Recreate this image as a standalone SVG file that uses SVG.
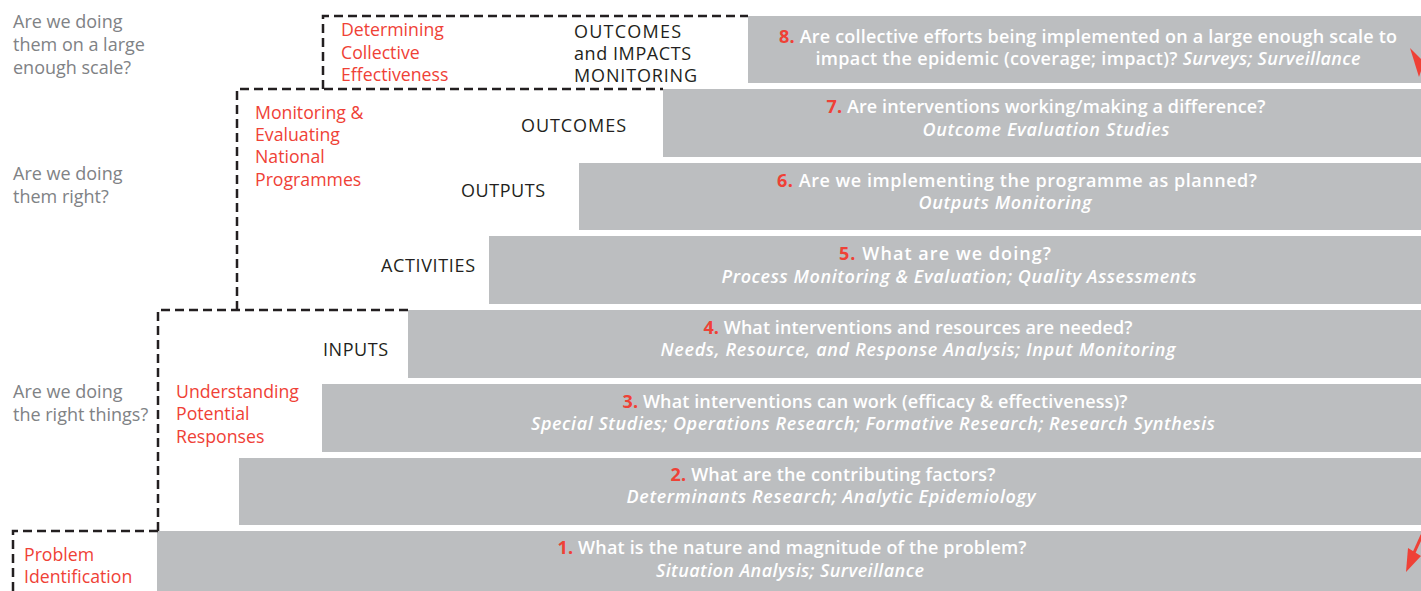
<svg xmlns="http://www.w3.org/2000/svg" width="1421" height="591" viewBox="0 0 1421 591">
<style>
.bar{fill:#bcbec0}
.q{font-family:"Open Sans","Liberation Sans",sans-serif;font-size:18px;font-weight:600;fill:#ffffff;text-anchor:middle}
.n{fill:#ef4136;font-weight:700}
.i{font-style:italic}
.g{font-family:"Open Sans","Liberation Sans",sans-serif;font-size:18px;fill:#808285}
.r{font-family:"Open Sans","Liberation Sans",sans-serif;font-size:17.7px;fill:#ef4136}
.k{font-family:"Open Sans","Liberation Sans",sans-serif;font-size:18px;fill:#231f20}
.dash{fill:none;stroke:#231f20;stroke-width:2.5;stroke-dasharray:9 5}
.arr{fill:#ef4136}
</style>
<rect width="1421" height="591" fill="#ffffff"/>
<g id="bar8"><rect class="bar" x="748" y="16" width="673" height="67"/>
<text class="q" x="1088" y="43" textLength="618"><tspan class="n">8.</tspan> Are collective efforts being implemented on a large enough scale to</text>
<text class="q" x="1088" y="65" textLength="545">impact the epidemic (coverage; impact)? <tspan class="i">Surveys; Surveillance</tspan></text></g>
<g id="bar7"><rect class="bar" x="663" y="89" width="758" height="68"/>
<text class="q" x="1046" y="113" textLength="439"><tspan class="n">7.</tspan> Are interventions working/making a difference?</text>
<text class="q i" x="1046" y="136" textLength="247">Outcome Evaluation Studies</text></g>
<g id="bar6"><rect class="bar" x="579" y="163" width="842" height="67"/>
<text class="q" x="1017" y="187" textLength="480"><tspan class="n">6.</tspan> Are we implementing the programme as planned?</text>
<text class="q i" x="1005" y="209" textLength="173">Outputs Monitoring</text></g>
<g id="bar5"><rect class="bar" x="489" y="236" width="932" height="68"/>
<text class="q" x="945" y="260" textLength="212"><tspan class="n">5.</tspan> What are we doing?</text>
<text class="q i" x="959" y="283" textLength="475">Process Monitoring &amp; Evaluation; Quality Assessments</text></g>
<g id="bar4"><rect class="bar" x="408" y="310" width="1013" height="68"/>
<text class="q" x="918" y="334" textLength="429"><tspan class="n">4.</tspan> What interventions and resources are needed?</text>
<text class="q i" x="918" y="356" textLength="515">Needs, Resource, and Response Analysis; Input Monitoring</text></g>
<g id="bar3"><rect class="bar" x="322" y="384" width="1099" height="68"/>
<text class="q" x="875" y="408" textLength="505"><tspan class="n">3.</tspan> What interventions can work (efficacy &amp; effectiveness)?</text>
<text class="q i" x="873" y="430" textLength="684">Special Studies; Operations Research; Formative Research; Research Synthesis</text></g>
<g id="bar2"><rect class="bar" x="239" y="458" width="1182" height="67"/>
<text class="q" x="833" y="481" textLength="325"><tspan class="n">2.</tspan> What are the contributing factors?</text>
<text class="q i" x="831" y="503" textLength="409">Determinants Research; Analytic Epidemiology</text></g>
<g id="bar1"><rect class="bar" x="157" y="531" width="1264" height="60"/>
<text class="q" x="792" y="554" textLength="469"><tspan class="n">1.</tspan> What is the nature and magnitude of the problem?</text>
<text class="q i" x="790" y="577" textLength="268">Situation Analysis; Surveillance</text></g>
<g id="questions">
<text class="g" x="13" y="28">Are we doing</text>
<text class="g" x="13" y="51">them on a large</text>
<text class="g" x="13" y="74">enough scale?</text>
<text class="g" x="13" y="180">Are we doing</text>
<text class="g" x="13" y="203">them right?</text>
<text class="g" x="13" y="398">Are we doing</text>
<text class="g" x="13" y="421">the right things?</text>
</g>
<g id="stage-determining">
<text class="r" x="341" y="36">Determining</text>
<text class="r" x="341" y="59">Collective</text>
<text class="r" x="341" y="81">Effectiveness</text>
</g>
<g id="stage-monitoring">
<text class="r" x="255" y="119">Monitoring &amp;</text>
<text class="r" x="255" y="141">Evaluating</text>
<text class="r" x="255" y="163">National</text>
<text class="r" x="255" y="186">Programmes</text>
</g>
<g id="stage-understanding">
<text class="r" x="176" y="398">Understanding</text>
<text class="r" x="176" y="420">Potential</text>
<text class="r" x="176" y="443">Responses</text>
</g>
<g id="stage-problem">
<text class="r" x="24" y="561">Problem</text>
<text class="r" x="24" y="583">Identification</text>
</g>
<g id="levels">
<text class="k" x="574" y="38" textLength="107">OUTCOMES</text>
<text class="k" x="574" y="60" textLength="117">and IMPACTS</text>
<text class="k" x="574" y="82" textLength="123">MONITORING</text>
<text class="k" x="521" y="132" textLength="105">OUTCOMES</text>
<text class="k" x="461" y="197" textLength="84">OUTPUTS</text>
<text class="k" x="381" y="272" textLength="94">ACTIVITIES</text>
<text class="k" x="323" y="356" textLength="65">INPUTS</text>
</g>
<g id="connectors">
<path class="dash" d="M13,591 V531 H158"/>
<path class="dash" d="M158,531 V310 H408"/>
<path class="dash" d="M237,310 V89 H663"/>
<path class="dash" d="M323,89 V16 H748"/>
<path class="arr" d="M1410,48 L1424,62 L1419,77 Z"/>
<line x1="1422" y1="535" x2="1413" y2="555" stroke="#ef4136" stroke-width="3"/>
<path class="arr" d="M1406,572 L1408,548 L1421,556 Z"/>
</g>
</svg>
